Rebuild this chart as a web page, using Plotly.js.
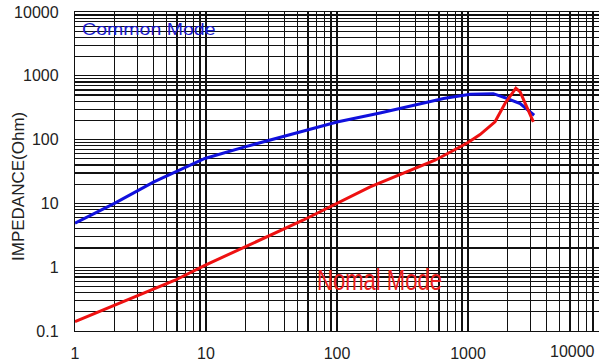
<!DOCTYPE html>
<html>
<head>
<meta charset="utf-8">
<script src="https://cdn.plot.ly/plotly-3.0.1.min.js"></script>
<style>html,body{margin:0;padding:0;background:#fff;}#chart{width:599px;height:364px;}</style>
</head>
<body>
<div id="chart"></div>
<script>
// Common Mode impedance (Ohm) vs frequency (MHz)
var freqCM = [1, 2, 4, 9.8, 19.8, 33, 66, 100, 213, 321, 430, 650, 1040, 1560, 1970, 2500, 3200];
var zCM    = [4.9, 10, 21.7, 50.6, 77, 102, 149, 189, 262, 318, 370, 441, 515, 525, 445, 368, 241];
// Normal Mode impedance
var freqNM = [1, 5.8, 9.8, 33.6, 55, 179, 430, 560, 818, 1000, 1236, 1608, 1916, 2320, 2500, 2808, 3155];
var zNM    = [0.14, 0.625, 1.07, 3.37, 5.45, 18.1, 37.3, 47.5, 72, 90, 120, 190, 368, 640, 560, 326, 189];

var xDecades = [1, 10, 100, 1000];
var xLabels = ['1', '10', '100', '1000'];
var yDecades = [0.1, 1, 10, 100, 1000, 10000];
var yLabels = ['0.1', '1', '10', '100', '1000', '10000'];
var digits = [1,2,3,4,5,6,7,8,9];

var xGridVals = [], xGridText = [];
xDecades.forEach(function(d, i){
  digits.forEach(function(m){ xGridVals.push(d*m); xGridText.push(m===1 ? xLabels[i] : ''); });
});
xGridVals.push(10000); xGridText.push('');
var yGridVals = [], yGridText = [];
yDecades.forEach(function(d, i){
  if (d === 10000) { yGridVals.push(d); yGridText.push(yLabels[i]); return; }
  digits.forEach(function(m){ yGridVals.push(d*m); yGridText.push(m===1 ? yLabels[i] : ''); });
});

var traces = [
  {x: freqCM, y: zCM, mode: 'lines', line: {color: '#1010dd', width: 3}, name: 'Common Mode'},
  {x: freqNM, y: zNM, mode: 'lines', line: {color: '#ee1111', width: 3}, name: 'Nomal Mode'}
];

var tickFont = {family: 'Liberation Sans, Arial, sans-serif', size: 16, color: '#222'};
var layout = {
  width: 599, height: 364,
  margin: {l: 75, r: 0, t: 12, b: 33},
  paper_bgcolor: '#fff', plot_bgcolor: '#fff',
  showlegend: false,
  xaxis: {
    type: 'log', range: [0, 4],
    tickmode: 'array', tickvals: xGridVals, ticktext: xGridText,
    showgrid: true, gridcolor: '#111', gridwidth: 1.2,
    ticks: '', ticklabelstandoff: 8, tickfont: tickFont,
    showline: true, linecolor: '#111', linewidth: 1.2, mirror: true, zeroline: false
  },
  yaxis: {
    type: 'log', range: [-1, 4],
    tickmode: 'array', tickvals: yGridVals, ticktext: yGridText,
    showgrid: true, gridcolor: '#111', gridwidth: 1.2,
    ticks: '', ticklabelstandoff: 12, tickfont: tickFont,
    showline: true, linecolor: '#111', linewidth: 1.2, mirror: true, zeroline: false
  },
  annotations: [
    {text: 'Common Mode', xref: 'paper', yref: 'paper', x: 0.0095, y: 0.9436, xanchor: 'left', yanchor: 'middle',
     showarrow: false, font: {family: 'Liberation Sans, Arial, sans-serif', size: 17, color: '#1a1acc'}},
    {text: 'Nomal Mode', xref: 'paper', yref: 'paper', x: 0.458, y: 0.163, xanchor: 'left', yanchor: 'middle',
     showarrow: false, font: {family: 'Liberation Sans, Arial, sans-serif', size: 30, color: '#e82020'}},
    {text: 'IMPEDANCE(Ohm)', xref: 'paper', yref: 'paper', x: -0.1088, y: 0.4545, xanchor: 'center', yanchor: 'middle',
     textangle: -90, showarrow: false, font: {family: 'Liberation Sans, Arial, sans-serif', size: 17, color: '#222'}},
    {text: '10000', xref: 'paper', yref: 'paper', x: 1, y: -0.0658, xanchor: 'right', yanchor: 'middle', xshift: -2,
     showarrow: false, font: tickFont}
  ]
};

Plotly.newPlot('chart', traces, layout, {staticPlot: true, displayModeBar: false}).then(function(){
  var texts = document.querySelectorAll('.annotation-text');
  var scales = [1.15, 0.735];
  scales.forEach(function(s, i){
    var t = texts[i];
    if (!t) return;
    t.style.transformBox = 'fill-box';
    t.style.transformOrigin = '0% 50%';
    t.style.transform = 'scaleX(' + s + ')';
  });
});
</script>
</body>
</html>
